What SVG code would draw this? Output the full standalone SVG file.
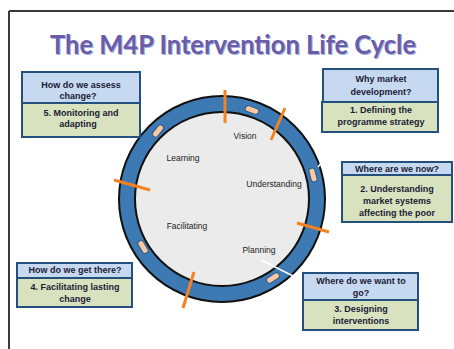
<svg xmlns="http://www.w3.org/2000/svg" width="454" height="349" viewBox="0 0 454 349">
<defs>
<style>
.frame{stroke:#3a3a3a;stroke-width:2;fill:none}
.title{font-family:Lato,"Open Sans",sans-serif;font-weight:bold;font-size:27px}
.q{fill:#c6d9f1;stroke:#24507e;stroke-width:2}
.a{fill:#d8e2be;stroke:#24507e;stroke-width:2}
.bt{font-family:"Liberation Sans",Arial,sans-serif;font-weight:bold;font-size:9px;fill:#1b1b35;text-anchor:middle}
.ring{fill:#3d79b3;stroke:#111;stroke-width:2}
.disc{fill:#ebebeb;stroke:#111;stroke-width:2}
.lbl{font-family:"Liberation Sans",Arial,sans-serif;font-size:8.5px;fill:#222;text-anchor:middle}
.tick{stroke:#f58220;stroke-width:3;stroke-linecap:butt}
.mark{fill:#f9c8a0;stroke:#2a5a8c;stroke-width:1}
.wire{stroke:#ffffff;stroke-width:1.5;fill:none}
</style>
</defs>
<rect width="454" height="349" fill="#ffffff"/>
<g id="frame">
<line class="frame" x1="9" y1="11" x2="454" y2="11"/>
<line class="frame" x1="9" y1="11" x2="9" y2="349"/>
</g>
<g id="title">
<text class="title" x="51" y="55" textLength="366" lengthAdjust="spacingAndGlyphs" fill="#9db3de">The M4P Intervention Life Cycle</text>
<text class="title" x="50" y="54" textLength="366" lengthAdjust="spacingAndGlyphs" fill="#6c5ca8">The M4P Intervention Life Cycle</text>
</g>
<g id="cycle">
<circle class="ring" cx="222" cy="199" r="103"/>
<circle class="disc" cx="222" cy="199" r="87"/>
<rect class="mark" x="-7" y="-3" width="14" height="6" rx="3" transform="translate(252,110) rotate(19)"/>
<rect class="mark" x="-7" y="-3" width="14" height="6" rx="3" transform="translate(313,175) rotate(75)"/>
<rect class="mark" x="-7" y="-3" width="14" height="6" rx="3" transform="translate(273,278) rotate(-33)"/>
<rect class="mark" x="-7" y="-3" width="14" height="6" rx="3" transform="translate(143,247) rotate(59)"/>
<rect class="mark" x="-7" y="-3" width="14" height="6" rx="3" transform="translate(158,131) rotate(-50)"/>
<line class="tick" x1="225" y1="90" x2="225" y2="123"/>
<line class="tick" x1="285" y1="108" x2="271" y2="140"/>
<line class="tick" x1="114" y1="180" x2="150" y2="190"/>
<line class="tick" x1="297" y1="223" x2="329" y2="232"/>
<line class="tick" x1="194" y1="272" x2="183" y2="308"/>
<text class="lbl" x="245" y="139">Vision</text>
<text class="lbl" x="183" y="161">Learning</text>
<text class="lbl" x="274" y="187">Understanding</text>
<text class="lbl" x="187" y="229">Facilitating</text>
<text class="lbl" x="259" y="253">Planning</text>
</g>
<g id="connectors">
<line class="wire" x1="261" y1="260" x2="297" y2="278"/>
<line class="wire" x1="318" y1="167" x2="324" y2="160"/>
</g>
<g id="box-assess">
<rect class="q" x="22" y="72" width="118" height="31"/>
<rect class="a" x="22" y="103" width="118" height="34"/>
<text class="bt" x="81" y="88">How do we assess</text>
<text class="bt" x="78" y="99">change?</text>
<text class="bt" x="81" y="116">5. Monitoring and</text>
<text class="bt" x="78" y="127">adapting</text>
</g>
<g id="box-why">
<rect class="q" x="323" y="69" width="115" height="33"/>
<rect class="a" x="322" y="102" width="116" height="30"/>
<text class="bt" x="381" y="82">Why market</text>
<text class="bt" x="381" y="95">development?</text>
<text class="bt" x="381" y="113">1. Defining the</text>
<text class="bt" x="381" y="125">programme strategy</text>
</g>
<g id="box-now">
<rect class="q" x="342" y="162" width="110" height="13"/>
<rect class="a" x="342" y="175" width="110" height="47"/>
<text class="bt" x="397" y="172">Where are we now?</text>
<text class="bt" x="397" y="192">2. Understanding</text>
<text class="bt" x="397" y="204">market systems</text>
<text class="bt" x="397" y="216">affecting the poor</text>
</g>
<g id="box-get">
<rect class="q" x="17" y="263" width="115" height="15"/>
<rect class="a" x="17" y="278" width="115" height="29"/>
<text class="bt" x="75" y="273">How do we get there?</text>
<text class="bt" x="75" y="290">4. Facilitating lasting</text>
<text class="bt" x="75" y="302">change</text>
</g>
<g id="box-want">
<rect class="q" x="303" y="273" width="115" height="27"/>
<rect class="a" x="303" y="300" width="115" height="30"/>
<text class="bt" x="361" y="284">Where do we want to</text>
<text class="bt" x="361" y="296">go?</text>
<text class="bt" x="361" y="312">3. Designing</text>
<text class="bt" x="361" y="324">interventions</text>
</g>
</svg>
